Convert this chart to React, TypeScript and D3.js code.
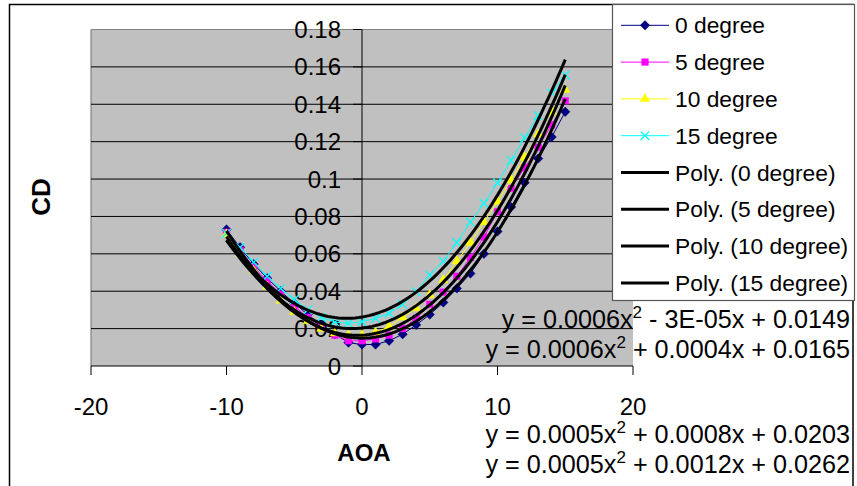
import React from 'react';
import * as d3 from 'd3';

// ---- data ----
const AOA = [-10, -9, -8, -7, -6, -5, -4, -3, -2, -1, 0, 1, 2, 3, 4, 5, 6, 7, 8, 9, 10, 11, 12, 13, 14, 15];

const CD_0 = [0.073, 0.0635, 0.0545, 0.047, 0.04, 0.0335, 0.0275, 0.022, 0.017, 0.0125, 0.0115, 0.0115, 0.0135, 0.017, 0.022, 0.0275, 0.034, 0.0415, 0.0495, 0.06, 0.072, 0.085, 0.098, 0.111, 0.1225, 0.136];
const CD_5 = [0.0715, 0.062, 0.053, 0.0455, 0.0385, 0.032, 0.026, 0.021, 0.0165, 0.0135, 0.0135, 0.0145, 0.0165, 0.02, 0.0255, 0.033, 0.0395, 0.048, 0.058, 0.069, 0.0825, 0.095, 0.106, 0.117, 0.129, 0.1418];
const CD_10 = [0.0705, 0.06, 0.051, 0.0425, 0.035, 0.029, 0.024, 0.02, 0.0175, 0.0165, 0.0165, 0.018, 0.021, 0.026, 0.031, 0.038, 0.046, 0.056, 0.066, 0.077, 0.088, 0.0995, 0.1115, 0.124, 0.136, 0.1477];
const CD_15 = [0.071, 0.0635, 0.0555, 0.048, 0.0415, 0.0355, 0.03, 0.026, 0.0235, 0.0228, 0.0237, 0.0255, 0.0282, 0.033, 0.0397, 0.0487, 0.056, 0.066, 0.077, 0.087, 0.098, 0.11, 0.122, 0.134, 0.146, 0.1557];

const SERIES_NAMES = ['0 degree', '5 degree', '10 degree', '15 degree'];
const TREND_NAMES = ['Poly. (0 degree)', 'Poly. (5 degree)', 'Poly. (10 degree)', 'Poly. (15 degree)'];

// polynomial trendline coefficients (y = a x^2 + b x + c)
const TREND_A = [0.000571, 0.000567, 0.000549, 0.000532];
const TREND_B = [-0.00003, 0.0004, 0.0008, 0.0012];
const TREND_C = [0.0149, 0.0165, 0.0203, 0.0262];

// equation labels as displayed
const EQ_A_LABELS = ['0.0006', '0.0006', '0.0005', '0.0005'];
const EQ_REST_LABELS = [' - 3E-05x + 0.0149', ' + 0.0004x + 0.0165', ' + 0.0008x + 0.0203', ' + 0.0012x + 0.0262'];

const X_TICKS = [-20, -10, 0, 10, 20];
const Y_TICKS = [0, 0.02, 0.04, 0.06, 0.08, 0.1, 0.12, 0.14, 0.16, 0.18];
const Y_TICK_LABELS = ['0', '0.02', '0.04', '0.06', '0.08', '0.1', '0.12', '0.14', '0.16', '0.18'];

const COLORS = ['#000080', '#FF00FF', '#FFFF00', '#00FFFF'];
const FONT = '"Liberation Sans", Arial, sans-serif';

const SERIES = [CD_0, CD_5, CD_10, CD_15];

function Marker({ kind, cx, cy }: { kind: number; cx: number; cy: number }) {
  const color = COLORS[kind];
  if (kind === 0) {
    const p = d3.symbol(d3.symbolSquare, 44)() as string;
    return <path d={p} transform={`translate(${cx},${cy}) rotate(45)`} fill={color} stroke={color} strokeWidth={0.5} />;
  }
  if (kind === 1) {
    const p = d3.symbol(d3.symbolSquare, 44)() as string;
    return <path d={p} transform={`translate(${cx},${cy})`} fill={color} stroke={color} strokeWidth={0.5} />;
  }
  if (kind === 2) {
    const p = d3.symbol(d3.symbolTriangle, 38)() as string;
    return <path d={p} transform={`translate(${cx},${cy})`} fill={color} stroke={color} strokeWidth={0.5} />;
  }
  const p = d3.symbol(d3.symbolTimes, 50)() as string;
  return <path d={p} transform={`translate(${cx},${cy})`} fill="none" stroke={color} strokeWidth={1.3} />;
}

export default function App() {
  const W = 857;
  const H = 486;
  const x = d3.scaleLinear().domain([-20, 20]).range([91, 633]);
  const y = d3.scaleLinear().domain([0, 0.18]).range([366, 29.5]);

  const line = d3
    .line<[number, number]>()
    .x((d) => x(d[0]))
    .y((d) => y(d[1]));

  const trendXs = d3.range(-10, 15.001, 0.25);

  const legendRows = [...SERIES_NAMES, ...TREND_NAMES];
  const legendY0 = 25.3;
  const legendStep = 36.8;

  const eqBaselines = [328, 358, 443, 473];

  return (
    <svg width={W} height={H} style={{ position: 'absolute', left: 0, top: 0, background: '#fff' }} fontFamily={FONT}>
      {/* outer chart border */}
      <rect x={9.5} y={4.5} width={843.5} height={490} fill="#fff" stroke="#000" strokeWidth={1.5} />

      {/* plot area */}
      <rect x={x(-20)} y={y(0.18)} width={x(20) - x(-20)} height={y(0) - y(0.18)} fill="#C0C0C0" />
      <line x1={x(-20)} x2={x(20)} y1={y(0.18)} y2={y(0.18)} stroke="#808080" strokeWidth={1.2} />
      <line x1={x(-20)} x2={x(-20)} y1={y(0.18)} y2={y(0)} stroke="#808080" strokeWidth={1.2} />

      {/* gridlines */}
      {Y_TICKS.filter((t) => t > 0 && t < 0.18).map((t) => (
        <line key={'g' + t} x1={x(-20)} x2={x(20)} y1={y(t)} y2={y(t)} stroke="#000" strokeWidth={1} />
      ))}

      {/* x axis */}
      <line x1={x(-20)} x2={x(20)} y1={y(0)} y2={y(0)} stroke="#000" strokeWidth={1} />
      {X_TICKS.map((t) => (
        <g key={'xt' + t}>
          <line x1={x(t)} x2={x(t)} y1={y(0)} y2={y(0) + 9} stroke="#000" strokeWidth={1} />
          <text x={x(t)} y={415} textAnchor="middle" fontSize={24} fill="#000">
            {t}
          </text>
        </g>
      ))}

      {/* y axis at x = 0 */}
      <line x1={x(0)} x2={x(0)} y1={y(0.18)} y2={y(0)} stroke="#000" strokeWidth={1} />
      {Y_TICKS.map((t, i) => (
        <g key={'yt' + t}>
          <line x1={x(0) - 9} x2={x(0)} y1={y(t)} y2={y(t)} stroke="#000" strokeWidth={1} />
          <text x={341} y={y(t) + 8.5} textAnchor="end" fontSize={24} fill="#000">
            {Y_TICK_LABELS[i]}
          </text>
        </g>
      ))}

      {/* data series */}
      {SERIES.map((s, k) => (
        <g key={'s' + k}>
          <path d={line(AOA.map((a, i) => [a, s[i]] as [number, number])) as string} fill="none" stroke={COLORS[k]} strokeWidth={1} />
          {AOA.map((a, i) => (
            <Marker key={i} kind={k} cx={x(a)} cy={y(s[i])} />
          ))}
        </g>
      ))}

      {/* polynomial trendlines */}
      {TREND_A.map((a, k) => (
        <path
          key={'t' + k}
          d={line(trendXs.map((v) => [v, a * v * v + TREND_B[k] * v + TREND_C[k]] as [number, number])) as string}
          fill="none"
          stroke="#000"
          strokeWidth={3}
        />
      ))}

      {/* axis titles */}
      <text x={43} y={197} transform="rotate(-90 43 197)" textAnchor="middle" dominantBaseline="middle" fontSize={26} fontWeight="bold" fill="#000">
        CD
      </text>
      <text x={364} y={461} textAnchor="middle" fontSize={24} fontWeight="bold" fill="#000">
        AOA
      </text>

      {/* legend */}
      <rect x={612.5} y={4.5} width={242} height={296} fill="#fff" stroke="#555" strokeWidth={1.2} />
      {legendRows.map((name, i) => {
        const cy = legendY0 + i * legendStep;
        const isSeries = i < 4;
        return (
          <g key={'l' + i}>
            <line x1={621} x2={669} y1={cy} y2={cy} stroke={isSeries ? COLORS[i] : '#000'} strokeWidth={isSeries ? 1 : 3} />
            {isSeries && <Marker kind={i} cx={645} cy={cy} />}
            <text x={675} y={cy + 8} fontSize={22.8} fill="#000">
              {name}
            </text>
          </g>
        );
      })}

      {/* trendline equations */}
      {EQ_A_LABELS.map((aLab, k) => (
        <text key={'e' + k} x={850} y={eqBaselines[k]} textAnchor="end" fontSize={25.2} fill="#000">
          <tspan>{'y = ' + aLab + 'x'}</tspan>
          <tspan dy={-10} fontSize={17}>
            2
          </tspan>
          <tspan dy={10}>{EQ_REST_LABELS[k]}</tspan>
        </text>
      ))}
    </svg>
  );
}
